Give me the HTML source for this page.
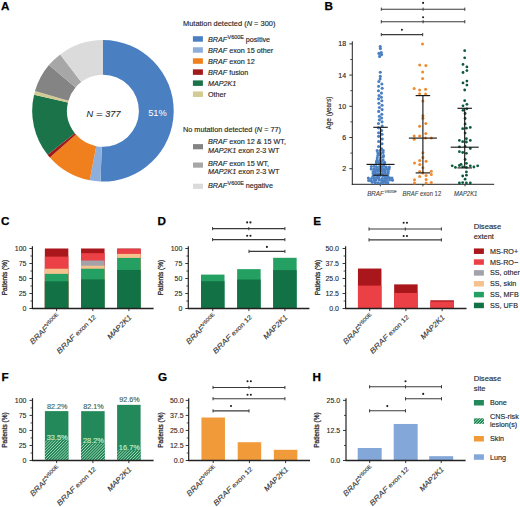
<!DOCTYPE html>
<html><head><meta charset="utf-8"><style>
html,body{margin:0;padding:0;background:#fff;}
svg{display:block;font-family:"Liberation Sans", sans-serif;}
</style></head><body>
<svg width="520" height="507" viewBox="0 0 520 507">
<rect width="520" height="507" fill="#fff"/>
<text x="1" y="10.1" font-size="11.7" font-weight="bold" fill="#000" stroke="#000" stroke-width="0.25">A</text>
<text x="324.5" y="10.1" font-size="11.7" font-weight="bold" fill="#000" stroke="#000" stroke-width="0.25">B</text>
<text x="1" y="224.5" font-size="11.7" font-weight="bold" fill="#000" stroke="#000" stroke-width="0.25">C</text>
<text x="157.5" y="224.5" font-size="11.7" font-weight="bold" fill="#000" stroke="#000" stroke-width="0.25">D</text>
<text x="313.3" y="224.5" font-size="11.7" font-weight="bold" fill="#000" stroke="#000" stroke-width="0.25">E</text>
<text x="1.6" y="380.6" font-size="11.7" font-weight="bold" fill="#000" stroke="#000" stroke-width="0.25">F</text>
<text x="157.9" y="380.6" font-size="11.7" font-weight="bold" fill="#000" stroke="#000" stroke-width="0.25">G</text>
<text x="312.6" y="380.6" font-size="11.7" font-weight="bold" fill="#000" stroke="#000" stroke-width="0.25">H</text>
<path d="M103,40 A70.8,70.8 0 1 1 100.53,181.56 L101.74,146.78 A36.0,36.0 0 1 0 103,74.8 Z" fill="#4a7fc2"/>
<path d="M100.53,181.56 A70.8,70.8 0 0 1 89.73,180.35 L96.25,146.16 A36.0,36.0 0 0 0 101.74,146.78 Z" fill="#8eafdc"/>
<path d="M89.73,180.35 A70.8,70.8 0 0 1 49.89,157.62 L76,134.61 A36.0,36.0 0 0 0 96.25,146.16 Z" fill="#f07f1e"/>
<path d="M49.89,157.62 A70.8,70.8 0 0 1 47.59,154.87 L74.83,133.21 A36.0,36.0 0 0 0 76,134.61 Z" fill="#a2191b"/>
<path d="M47.59,154.87 A70.8,70.8 0 0 1 34.07,94.63 L67.95,102.58 A36.0,36.0 0 0 0 74.83,133.21 Z" fill="#1a7349"/>
<path d="M34.07,94.63 A70.8,70.8 0 0 1 35.01,91.05 L68.43,100.76 A36.0,36.0 0 0 0 67.95,102.58 Z" fill="#d3cb93"/>
<path d="M35.01,91.05 A70.8,70.8 0 0 1 48.92,65.1 L75.5,87.56 A36.0,36.0 0 0 0 68.43,100.76 Z" fill="#848484"/>
<path d="M48.92,65.1 A70.8,70.8 0 0 1 60.19,54.41 L81.23,82.12 A36.0,36.0 0 0 0 75.5,87.56 Z" fill="#a7a7a8"/>
<path d="M60.19,54.41 A70.8,70.8 0 0 1 103,40 L103,74.8 A36.0,36.0 0 0 0 81.23,82.12 Z" fill="#dbdbdb"/>
<text x="86.4" y="116.7" font-size="9.2" font-style="italic" fill="#262626" stroke="#262626" stroke-width="0.08">N</text>
<text x="96.1" y="116.7" font-size="9.2" fill="#262626" stroke="#262626" stroke-width="0.08" textLength="6.7" lengthAdjust="spacingAndGlyphs">=</text>
<text x="105.3" y="116.7" font-size="9.2" font-style="italic" fill="#262626" stroke="#262626" stroke-width="0.08" textLength="15.2" lengthAdjust="spacingAndGlyphs">377</text>
<text x="157.5" y="116.3" font-size="9.3" text-anchor="middle" fill="#fff">51%</text>
<text stroke-width="0.14" x="183" y="25.6" font-size="7.45" fill="#262626" stroke="#262626">Mutation detected (<tspan font-style="italic">N</tspan> = 300)</text>
<rect x="192.9" y="36.2" width="10" height="5.5" fill="#4a7fc2"/>
<text stroke-width="0.14" x="208" y="41.55" font-size="7.2" fill="#262626" stroke="#262626"><tspan font-style="italic">BRAF</tspan><tspan font-size="5.4" dy="-2.9" dx="0.4">V600E</tspan><tspan dy="2.9"> positive</tspan></text>
<rect x="192.9" y="47.25" width="10" height="5.5" fill="#8eafdc"/>
<text stroke-width="0.14" x="208" y="52.6" font-size="7.2" fill="#262626" stroke="#262626"><tspan font-style="italic">BRAF</tspan> exon 15 other</text>
<rect x="192.9" y="58.3" width="10" height="5.5" fill="#f07f1e"/>
<text stroke-width="0.14" x="208" y="63.65" font-size="7.2" fill="#262626" stroke="#262626"><tspan font-style="italic">BRAF</tspan> exon 12</text>
<rect x="192.9" y="69.35" width="10" height="5.5" fill="#a2191b"/>
<text stroke-width="0.14" x="208" y="74.7" font-size="7.2" fill="#262626" stroke="#262626"><tspan font-style="italic">BRAF</tspan> fusion</text>
<rect x="192.9" y="80.4" width="10" height="5.5" fill="#1a7349"/>
<text stroke-width="0.14" x="208" y="85.75" font-size="7.2" fill="#262626" stroke="#262626"><tspan font-style="italic">MAP2K1</tspan></text>
<rect x="192.9" y="91.45" width="10" height="5.5" fill="#d3cb93"/>
<text stroke-width="0.14" x="208" y="96.8" font-size="7.2" fill="#262626" stroke="#262626">Other</text>
<text stroke-width="0.14" x="183" y="132.3" font-size="7.3" fill="#262626" stroke="#262626">No mutation detected (<tspan font-style="italic">N</tspan> = 77)</text>
<rect x="193" y="144.1" width="10" height="5.2" fill="#848484"/>
<text stroke-width="0.14" x="208" y="144.2" font-size="7.2" fill="#262626" stroke="#262626"><tspan font-style="italic">BRAF</tspan> exon 12 &amp; 15 WT,</text>
<text stroke-width="0.14" x="208" y="153.3" font-size="7.2" fill="#262626" stroke="#262626"><tspan font-style="italic">MAP2K1</tspan> exon 2-3 WT</text>
<rect x="193" y="162.5" width="10" height="5.2" fill="#a7a7a8"/>
<text stroke-width="0.14" x="208" y="165.8" font-size="7.2" fill="#262626" stroke="#262626"><tspan font-style="italic">BRAF</tspan> exon 15 WT,</text>
<text stroke-width="0.14" x="208" y="174.3" font-size="7.2" fill="#262626" stroke="#262626"><tspan font-style="italic">MAP2K1</tspan> exon 2-3 WT</text>
<rect x="193" y="183.7" width="10" height="5.2" fill="#dbdbdb"/>
<text stroke-width="0.14" x="208" y="188.1" font-size="7.2" fill="#262626" stroke="#262626"><tspan font-style="italic">BRAF</tspan><tspan font-size="5.4" dy="-2.9" dx="0.4">V600E</tspan><tspan dy="2.9"> negative</tspan></text>
<line x1="352.3" y1="41.3" x2="352.3" y2="184.8" stroke="#222222" stroke-width="1"/>
<line x1="351.8" y1="184.3" x2="494.2" y2="184.3" stroke="#222222" stroke-width="1"/>
<line x1="349.3" y1="168.7" x2="352.3" y2="168.7" stroke="#222222" stroke-width="0.9"/>
<text stroke-width="0.14" x="346.1" y="171.2" font-size="7" text-anchor="end" fill="#262626" stroke="#262626">2</text>
<line x1="349.3" y1="137.5" x2="352.3" y2="137.5" stroke="#222222" stroke-width="0.9"/>
<text stroke-width="0.14" x="346.1" y="140" font-size="7" text-anchor="end" fill="#262626" stroke="#262626">6</text>
<line x1="349.3" y1="106.3" x2="352.3" y2="106.3" stroke="#222222" stroke-width="0.9"/>
<text stroke-width="0.14" x="346.1" y="108.8" font-size="7" text-anchor="end" fill="#262626" stroke="#262626">10</text>
<line x1="349.3" y1="75.1" x2="352.3" y2="75.1" stroke="#222222" stroke-width="0.9"/>
<text stroke-width="0.14" x="346.1" y="77.6" font-size="7" text-anchor="end" fill="#262626" stroke="#262626">14</text>
<line x1="349.3" y1="43.9" x2="352.3" y2="43.9" stroke="#222222" stroke-width="0.9"/>
<text stroke-width="0.14" x="346.1" y="46.4" font-size="7" text-anchor="end" fill="#262626" stroke="#262626">18</text>
<line x1="350.3" y1="153.1" x2="352.3" y2="153.1" stroke="#222222" stroke-width="0.8"/>
<line x1="350.3" y1="121.9" x2="352.3" y2="121.9" stroke="#222222" stroke-width="0.8"/>
<line x1="350.3" y1="90.7" x2="352.3" y2="90.7" stroke="#222222" stroke-width="0.8"/>
<line x1="350.3" y1="59.5" x2="352.3" y2="59.5" stroke="#222222" stroke-width="0.8"/>
<text stroke-width="0.14" transform="translate(330.6,113) rotate(-90)" font-size="6.5" text-anchor="middle" fill="#262626" stroke="#262626" textLength="33" lengthAdjust="spacingAndGlyphs">Age (years)</text>
<line x1="380.3" y1="184.3" x2="380.3" y2="186.3" stroke="#222222" stroke-width="0.9"/>
<line x1="422.9" y1="184.3" x2="422.9" y2="186.3" stroke="#222222" stroke-width="0.9"/>
<line x1="465" y1="184.3" x2="465" y2="186.3" stroke="#222222" stroke-width="0.9"/>
<text x="367.2" y="196.4" font-size="6.6" font-style="italic" fill="#444" stroke="#444" stroke-width="0.1" textLength="29.6" lengthAdjust="spacingAndGlyphs">BRAF<tspan font-size="4.3" dy="-3.5" dx="0.8">V600E</tspan></text>
<text x="402.6" y="196.4" font-size="6.6" fill="#444" stroke="#444" stroke-width="0.1" textLength="38.6" lengthAdjust="spacingAndGlyphs"><tspan font-style="italic">BRAF</tspan> exon 12</text>
<text x="454" y="196.4" font-size="6.6" font-style="italic" fill="#444" stroke="#444" stroke-width="0.1" textLength="23.4" lengthAdjust="spacingAndGlyphs">MAP2K1</text>
<circle cx="380.2" cy="46.6" r="1.55" fill="#4a7fc2"/>
<circle cx="380.4" cy="48.6" r="1.55" fill="#4a7fc2"/>
<circle cx="378.9" cy="53.4" r="1.55" fill="#4a7fc2"/>
<circle cx="381.6" cy="54.6" r="1.55" fill="#4a7fc2"/>
<circle cx="379.6" cy="56.4" r="1.55" fill="#4a7fc2"/>
<circle cx="381.2" cy="52.6" r="1.55" fill="#4a7fc2"/>
<circle cx="380.3" cy="72.3" r="1.55" fill="#4a7fc2"/>
<circle cx="380.3" cy="76.4" r="1.55" fill="#4a7fc2"/>
<circle cx="380.1" cy="79" r="1.55" fill="#4a7fc2"/>
<circle cx="378.85" cy="81.54" r="1.55" fill="#4a7fc2"/>
<circle cx="381.87" cy="84.04" r="1.55" fill="#4a7fc2"/>
<circle cx="378.58" cy="86.27" r="1.55" fill="#4a7fc2"/>
<circle cx="382.19" cy="88.28" r="1.55" fill="#4a7fc2"/>
<circle cx="378.49" cy="90.69" r="1.55" fill="#4a7fc2"/>
<circle cx="381.44" cy="93.11" r="1.55" fill="#4a7fc2"/>
<circle cx="379.05" cy="95.46" r="1.55" fill="#4a7fc2"/>
<circle cx="381.42" cy="97.25" r="1.55" fill="#4a7fc2"/>
<circle cx="378.59" cy="98.83" r="1.55" fill="#4a7fc2"/>
<circle cx="381.86" cy="100.68" r="1.55" fill="#4a7fc2"/>
<circle cx="378.92" cy="103.26" r="1.55" fill="#4a7fc2"/>
<circle cx="382.06" cy="105.3" r="1.55" fill="#4a7fc2"/>
<circle cx="379.4" cy="107.57" r="1.55" fill="#4a7fc2"/>
<circle cx="382.11" cy="109.62" r="1.55" fill="#4a7fc2"/>
<circle cx="378.69" cy="111.38" r="1.55" fill="#4a7fc2"/>
<circle cx="381.8" cy="114.23" r="1.55" fill="#4a7fc2"/>
<circle cx="379.36" cy="116.28" r="1.55" fill="#4a7fc2"/>
<circle cx="381.61" cy="118.02" r="1.55" fill="#4a7fc2"/>
<circle cx="379.38" cy="119.84" r="1.55" fill="#4a7fc2"/>
<circle cx="382.03" cy="121.83" r="1.55" fill="#4a7fc2"/>
<circle cx="378.49" cy="123.51" r="1.55" fill="#4a7fc2"/>
<circle cx="382.16" cy="125.94" r="1.55" fill="#4a7fc2"/>
<circle cx="378.5" cy="127.83" r="1.55" fill="#4a7fc2"/>
<circle cx="381.58" cy="130.55" r="1.55" fill="#4a7fc2"/>
<circle cx="378.59" cy="132.75" r="1.55" fill="#4a7fc2"/>
<circle cx="382.04" cy="134.2" r="1.55" fill="#4a7fc2"/>
<circle cx="378.61" cy="136.37" r="1.55" fill="#4a7fc2"/>
<circle cx="382.2" cy="138.97" r="1.55" fill="#4a7fc2"/>
<circle cx="378.61" cy="141.52" r="1.55" fill="#4a7fc2"/>
<circle cx="382.04" cy="143.81" r="1.55" fill="#4a7fc2"/>
<circle cx="378.61" cy="146.5" r="1.55" fill="#4a7fc2"/>
<circle cx="381.73" cy="148.91" r="1.55" fill="#4a7fc2"/>
<circle cx="377.17" cy="150.58" r="1.55" fill="#4a7fc2"/>
<circle cx="380.19" cy="150.6" r="1.55" fill="#4a7fc2"/>
<circle cx="383.2" cy="150.45" r="1.55" fill="#4a7fc2"/>
<circle cx="377.87" cy="152.78" r="1.55" fill="#4a7fc2"/>
<circle cx="380.46" cy="153.17" r="1.55" fill="#4a7fc2"/>
<circle cx="383.05" cy="152.45" r="1.55" fill="#4a7fc2"/>
<circle cx="377.83" cy="155.42" r="1.55" fill="#4a7fc2"/>
<circle cx="380.2" cy="154.79" r="1.55" fill="#4a7fc2"/>
<circle cx="383.49" cy="155.54" r="1.55" fill="#4a7fc2"/>
<circle cx="377.26" cy="157.85" r="1.55" fill="#4a7fc2"/>
<circle cx="380.71" cy="157.5" r="1.55" fill="#4a7fc2"/>
<circle cx="383.24" cy="157" r="1.55" fill="#4a7fc2"/>
<circle cx="377.13" cy="160.16" r="1.55" fill="#4a7fc2"/>
<circle cx="380.19" cy="159.9" r="1.55" fill="#4a7fc2"/>
<circle cx="383.11" cy="160.02" r="1.55" fill="#4a7fc2"/>
<circle cx="376.38" cy="161.79" r="1.55" fill="#4a7fc2"/>
<circle cx="378.77" cy="162.22" r="1.55" fill="#4a7fc2"/>
<circle cx="381.42" cy="161.73" r="1.55" fill="#4a7fc2"/>
<circle cx="384.55" cy="162.35" r="1.55" fill="#4a7fc2"/>
<circle cx="376.39" cy="164.08" r="1.55" fill="#4a7fc2"/>
<circle cx="379.37" cy="164" r="1.55" fill="#4a7fc2"/>
<circle cx="381.38" cy="164.07" r="1.55" fill="#4a7fc2"/>
<circle cx="384.46" cy="163.86" r="1.55" fill="#4a7fc2"/>
<circle cx="371.34" cy="166.47" r="1.55" fill="#4a7fc2"/>
<circle cx="374.17" cy="166.23" r="1.55" fill="#4a7fc2"/>
<circle cx="376.52" cy="166.99" r="1.55" fill="#4a7fc2"/>
<circle cx="379.53" cy="166.76" r="1.55" fill="#4a7fc2"/>
<circle cx="381.81" cy="166.68" r="1.55" fill="#4a7fc2"/>
<circle cx="383.88" cy="166.14" r="1.55" fill="#4a7fc2"/>
<circle cx="386.3" cy="167.01" r="1.55" fill="#4a7fc2"/>
<circle cx="389.36" cy="167.06" r="1.55" fill="#4a7fc2"/>
<circle cx="371.22" cy="169.04" r="1.55" fill="#4a7fc2"/>
<circle cx="374.1" cy="169.13" r="1.55" fill="#4a7fc2"/>
<circle cx="376.48" cy="169.4" r="1.55" fill="#4a7fc2"/>
<circle cx="378.8" cy="168.95" r="1.55" fill="#4a7fc2"/>
<circle cx="381.85" cy="169.3" r="1.55" fill="#4a7fc2"/>
<circle cx="384.36" cy="169.1" r="1.55" fill="#4a7fc2"/>
<circle cx="386.92" cy="169.32" r="1.55" fill="#4a7fc2"/>
<circle cx="389.08" cy="169.09" r="1.55" fill="#4a7fc2"/>
<circle cx="373.22" cy="171.57" r="1.55" fill="#4a7fc2"/>
<circle cx="375.33" cy="171.49" r="1.55" fill="#4a7fc2"/>
<circle cx="378.19" cy="171.27" r="1.55" fill="#4a7fc2"/>
<circle cx="380.5" cy="171.08" r="1.55" fill="#4a7fc2"/>
<circle cx="382.97" cy="171.31" r="1.55" fill="#4a7fc2"/>
<circle cx="385.06" cy="171.34" r="1.55" fill="#4a7fc2"/>
<circle cx="388.29" cy="171.58" r="1.55" fill="#4a7fc2"/>
<circle cx="373.08" cy="173.39" r="1.55" fill="#4a7fc2"/>
<circle cx="375.59" cy="173.58" r="1.55" fill="#4a7fc2"/>
<circle cx="377.85" cy="173.84" r="1.55" fill="#4a7fc2"/>
<circle cx="380.07" cy="173.75" r="1.55" fill="#4a7fc2"/>
<circle cx="382.52" cy="173.6" r="1.55" fill="#4a7fc2"/>
<circle cx="385.38" cy="173.23" r="1.55" fill="#4a7fc2"/>
<circle cx="388.06" cy="173.5" r="1.55" fill="#4a7fc2"/>
<circle cx="372.99" cy="176.22" r="1.55" fill="#4a7fc2"/>
<circle cx="375.2" cy="175.31" r="1.55" fill="#4a7fc2"/>
<circle cx="377.74" cy="175.98" r="1.55" fill="#4a7fc2"/>
<circle cx="380.16" cy="175.47" r="1.55" fill="#4a7fc2"/>
<circle cx="383.22" cy="175.96" r="1.55" fill="#4a7fc2"/>
<circle cx="385.35" cy="176.19" r="1.55" fill="#4a7fc2"/>
<circle cx="387.76" cy="175.97" r="1.55" fill="#4a7fc2"/>
<circle cx="368.36" cy="178.03" r="1.55" fill="#4a7fc2"/>
<circle cx="371.47" cy="178.51" r="1.55" fill="#4a7fc2"/>
<circle cx="374.15" cy="177.98" r="1.55" fill="#4a7fc2"/>
<circle cx="376.53" cy="177.92" r="1.55" fill="#4a7fc2"/>
<circle cx="378.8" cy="178.1" r="1.55" fill="#4a7fc2"/>
<circle cx="381.98" cy="178.45" r="1.55" fill="#4a7fc2"/>
<circle cx="384.5" cy="178.55" r="1.55" fill="#4a7fc2"/>
<circle cx="386.78" cy="177.77" r="1.55" fill="#4a7fc2"/>
<circle cx="389.54" cy="177.88" r="1.55" fill="#4a7fc2"/>
<circle cx="391.97" cy="178.01" r="1.55" fill="#4a7fc2"/>
<circle cx="368.7" cy="180.39" r="1.55" fill="#4a7fc2"/>
<circle cx="371.07" cy="180.74" r="1.55" fill="#4a7fc2"/>
<circle cx="374.23" cy="180.35" r="1.55" fill="#4a7fc2"/>
<circle cx="376.13" cy="179.93" r="1.55" fill="#4a7fc2"/>
<circle cx="379.39" cy="179.94" r="1.55" fill="#4a7fc2"/>
<circle cx="381.88" cy="180.47" r="1.55" fill="#4a7fc2"/>
<circle cx="384.18" cy="180.69" r="1.55" fill="#4a7fc2"/>
<circle cx="386.57" cy="180.04" r="1.55" fill="#4a7fc2"/>
<circle cx="389.54" cy="179.92" r="1.55" fill="#4a7fc2"/>
<circle cx="392.46" cy="180.14" r="1.55" fill="#4a7fc2"/>
<circle cx="372.31" cy="182.25" r="1.55" fill="#4a7fc2"/>
<circle cx="375.3" cy="182.65" r="1.55" fill="#4a7fc2"/>
<circle cx="377.9" cy="182.86" r="1.55" fill="#4a7fc2"/>
<circle cx="380.65" cy="183.16" r="1.55" fill="#4a7fc2"/>
<circle cx="383.15" cy="182.4" r="1.55" fill="#4a7fc2"/>
<circle cx="385.58" cy="182.38" r="1.55" fill="#4a7fc2"/>
<circle cx="387.81" cy="182.67" r="1.55" fill="#4a7fc2"/>
<circle cx="422.5" cy="43.9" r="1.5" fill="#ef8a2e"/>
<circle cx="419.7" cy="64.9" r="1.5" fill="#ef8a2e"/>
<circle cx="425.9" cy="65.4" r="1.5" fill="#ef8a2e"/>
<circle cx="422.6" cy="72" r="1.5" fill="#ef8a2e"/>
<circle cx="422.6" cy="78.4" r="1.5" fill="#ef8a2e"/>
<circle cx="414.2" cy="88.6" r="1.5" fill="#ef8a2e"/>
<circle cx="419.6" cy="89.9" r="1.5" fill="#ef8a2e"/>
<circle cx="425.6" cy="89.3" r="1.5" fill="#ef8a2e"/>
<circle cx="419.6" cy="93.7" r="1.5" fill="#ef8a2e"/>
<circle cx="425.6" cy="93.9" r="1.5" fill="#ef8a2e"/>
<circle cx="422.9" cy="101" r="1.5" fill="#ef8a2e"/>
<circle cx="422.9" cy="115.7" r="1.5" fill="#ef8a2e"/>
<circle cx="422.9" cy="118.2" r="1.5" fill="#ef8a2e"/>
<circle cx="419.6" cy="126.2" r="1.5" fill="#ef8a2e"/>
<circle cx="425.8" cy="123.5" r="1.5" fill="#ef8a2e"/>
<circle cx="425.8" cy="133.4" r="1.5" fill="#ef8a2e"/>
<circle cx="414.2" cy="135.9" r="1.5" fill="#ef8a2e"/>
<circle cx="419.6" cy="135.9" r="1.5" fill="#ef8a2e"/>
<circle cx="414.2" cy="139.2" r="1.5" fill="#ef8a2e"/>
<circle cx="425.6" cy="138.1" r="1.5" fill="#ef8a2e"/>
<circle cx="431.3" cy="138.1" r="1.5" fill="#ef8a2e"/>
<circle cx="422.9" cy="152.7" r="1.5" fill="#ef8a2e"/>
<circle cx="422.9" cy="157.4" r="1.5" fill="#ef8a2e"/>
<circle cx="419.7" cy="160.6" r="1.5" fill="#ef8a2e"/>
<circle cx="426.1" cy="161.3" r="1.5" fill="#ef8a2e"/>
<circle cx="414.5" cy="162.9" r="1.5" fill="#ef8a2e"/>
<circle cx="419.7" cy="164.5" r="1.5" fill="#ef8a2e"/>
<circle cx="422.9" cy="167.7" r="1.5" fill="#ef8a2e"/>
<circle cx="431.3" cy="171.3" r="1.5" fill="#ef8a2e"/>
<circle cx="431.3" cy="174.5" r="1.5" fill="#ef8a2e"/>
<circle cx="419.7" cy="176.4" r="1.5" fill="#ef8a2e"/>
<circle cx="426.1" cy="175.6" r="1.5" fill="#ef8a2e"/>
<circle cx="426.1" cy="179.5" r="1.5" fill="#ef8a2e"/>
<circle cx="414.5" cy="179.8" r="1.5" fill="#ef8a2e"/>
<circle cx="414.5" cy="183" r="1.5" fill="#ef8a2e"/>
<circle cx="426.1" cy="183" r="1.5" fill="#ef8a2e"/>
<circle cx="431.3" cy="182.4" r="1.5" fill="#ef8a2e"/>
<circle cx="422.9" cy="172.9" r="1.5" fill="#ef8a2e"/>
<circle cx="419.7" cy="171.5" r="1.5" fill="#ef8a2e"/>
<circle cx="464.7" cy="50.7" r="1.4" fill="#0c5a3b"/>
<circle cx="464.7" cy="57.8" r="1.4" fill="#0c5a3b"/>
<circle cx="463" cy="64.4" r="1.4" fill="#0c5a3b"/>
<circle cx="466.9" cy="66.9" r="1.4" fill="#0c5a3b"/>
<circle cx="466.9" cy="70.6" r="1.4" fill="#0c5a3b"/>
<circle cx="463" cy="72.5" r="1.4" fill="#0c5a3b"/>
<circle cx="466.9" cy="81.1" r="1.4" fill="#0c5a3b"/>
<circle cx="463" cy="82.9" r="1.4" fill="#0c5a3b"/>
<circle cx="466.9" cy="85.1" r="1.4" fill="#0c5a3b"/>
<circle cx="464.7" cy="90" r="1.4" fill="#0c5a3b"/>
<circle cx="464.7" cy="100.7" r="1.4" fill="#0c5a3b"/>
<circle cx="466.9" cy="104.3" r="1.4" fill="#0c5a3b"/>
<circle cx="463" cy="105.8" r="1.4" fill="#0c5a3b"/>
<circle cx="463" cy="110.3" r="1.4" fill="#0c5a3b"/>
<circle cx="466.9" cy="108.8" r="1.4" fill="#0c5a3b"/>
<circle cx="465.1" cy="113.5" r="1.4" fill="#0c5a3b"/>
<circle cx="465.1" cy="118.5" r="1.4" fill="#0c5a3b"/>
<circle cx="465.1" cy="123.9" r="1.4" fill="#0c5a3b"/>
<circle cx="462.7" cy="128.7" r="1.4" fill="#0c5a3b"/>
<circle cx="466.4" cy="128.2" r="1.4" fill="#0c5a3b"/>
<circle cx="470.3" cy="127.4" r="1.4" fill="#0c5a3b"/>
<circle cx="465.1" cy="133.1" r="1.4" fill="#0c5a3b"/>
<circle cx="459.4" cy="140.4" r="1.4" fill="#0c5a3b"/>
<circle cx="462.7" cy="141.7" r="1.4" fill="#0c5a3b"/>
<circle cx="466.4" cy="142" r="1.4" fill="#0c5a3b"/>
<circle cx="466.4" cy="138.7" r="1.4" fill="#0c5a3b"/>
<circle cx="470.3" cy="140.4" r="1.4" fill="#0c5a3b"/>
<circle cx="459.4" cy="146.8" r="1.4" fill="#0c5a3b"/>
<circle cx="465.1" cy="146.5" r="1.4" fill="#0c5a3b"/>
<circle cx="470.3" cy="148.5" r="1.4" fill="#0c5a3b"/>
<circle cx="459.4" cy="151.7" r="1.4" fill="#0c5a3b"/>
<circle cx="462.7" cy="152.5" r="1.4" fill="#0c5a3b"/>
<circle cx="466.4" cy="153.3" r="1.4" fill="#0c5a3b"/>
<circle cx="465.1" cy="159.5" r="1.4" fill="#0c5a3b"/>
<circle cx="466.4" cy="163.3" r="1.4" fill="#0c5a3b"/>
<circle cx="461" cy="164.3" r="1.4" fill="#0c5a3b"/>
<circle cx="452.2" cy="165.8" r="1.4" fill="#0c5a3b"/>
<circle cx="455.4" cy="167.4" r="1.4" fill="#0c5a3b"/>
<circle cx="459.4" cy="165.5" r="1.4" fill="#0c5a3b"/>
<circle cx="462.7" cy="166.8" r="1.4" fill="#0c5a3b"/>
<circle cx="466.4" cy="167.4" r="1.4" fill="#0c5a3b"/>
<circle cx="470.3" cy="165.8" r="1.4" fill="#0c5a3b"/>
<circle cx="473.9" cy="167" r="1.4" fill="#0c5a3b"/>
<circle cx="477.7" cy="165.8" r="1.4" fill="#0c5a3b"/>
<circle cx="466.4" cy="171.9" r="1.4" fill="#0c5a3b"/>
<circle cx="466.4" cy="175.2" r="1.4" fill="#0c5a3b"/>
<circle cx="462.7" cy="176" r="1.4" fill="#0c5a3b"/>
<circle cx="465.1" cy="179.2" r="1.4" fill="#0c5a3b"/>
<circle cx="459.4" cy="183" r="1.4" fill="#0c5a3b"/>
<circle cx="462.7" cy="182.6" r="1.4" fill="#0c5a3b"/>
<circle cx="466.4" cy="183" r="1.4" fill="#0c5a3b"/>
<circle cx="470.3" cy="183" r="1.4" fill="#0c5a3b"/>
<line x1="380.5" y1="127.3" x2="380.5" y2="175.2" stroke="#1a1a1a" stroke-width="1.15"/>
<line x1="366.5" y1="164.4" x2="394.5" y2="164.4" stroke="#1a1a1a" stroke-width="1.15"/>
<line x1="373.25" y1="127.3" x2="387.75" y2="127.3" stroke="#1a1a1a" stroke-width="1.15"/>
<line x1="373.25" y1="175.2" x2="387.75" y2="175.2" stroke="#1a1a1a" stroke-width="1.15"/>
<line x1="422.9" y1="95.6" x2="422.9" y2="172.9" stroke="#1a1a1a" stroke-width="1.15"/>
<line x1="408.9" y1="138.1" x2="436.9" y2="138.1" stroke="#1a1a1a" stroke-width="1.15"/>
<line x1="415.65" y1="95.6" x2="430.15" y2="95.6" stroke="#1a1a1a" stroke-width="1.15"/>
<line x1="415.65" y1="172.9" x2="430.15" y2="172.9" stroke="#1a1a1a" stroke-width="1.15"/>
<line x1="464.7" y1="108.3" x2="464.7" y2="167.9" stroke="#1a1a1a" stroke-width="1.15"/>
<line x1="450.7" y1="147.2" x2="478.7" y2="147.2" stroke="#1a1a1a" stroke-width="1.15"/>
<line x1="457.45" y1="108.3" x2="471.95" y2="108.3" stroke="#1a1a1a" stroke-width="1.15"/>
<line x1="457.45" y1="167.9" x2="471.95" y2="167.9" stroke="#1a1a1a" stroke-width="1.15"/>
<line x1="381.3" y1="9.2" x2="464.8" y2="9.2" stroke="#3a3a3a" stroke-width="1.1"/>
<line x1="381.3" y1="7.6" x2="381.3" y2="10.8" stroke="#3a3a3a" stroke-width="1.0"/>
<line x1="464.8" y1="7.6" x2="464.8" y2="10.8" stroke="#3a3a3a" stroke-width="1.0"/>
<line x1="423.1" y1="7.6" x2="423.1" y2="10.8" stroke="#3a3a3a" stroke-width="1.0"/>
<circle cx="423.1" cy="2.9" r="1.05" fill="#1e1e1e"/>
<line x1="381.3" y1="21.7" x2="464.8" y2="21.7" stroke="#3a3a3a" stroke-width="1.1"/>
<line x1="381.3" y1="20.1" x2="381.3" y2="23.3" stroke="#3a3a3a" stroke-width="1.0"/>
<line x1="464.8" y1="20.1" x2="464.8" y2="23.3" stroke="#3a3a3a" stroke-width="1.0"/>
<line x1="423.1" y1="20.1" x2="423.1" y2="23.3" stroke="#3a3a3a" stroke-width="1.0"/>
<circle cx="423.1" cy="17.3" r="1.05" fill="#1e1e1e"/>
<line x1="381.3" y1="34.6" x2="422.7" y2="34.6" stroke="#3a3a3a" stroke-width="1.1"/>
<line x1="381.3" y1="33" x2="381.3" y2="36.2" stroke="#3a3a3a" stroke-width="1.0"/>
<line x1="422.7" y1="33" x2="422.7" y2="36.2" stroke="#3a3a3a" stroke-width="1.0"/>
<circle cx="401.9" cy="29.8" r="1.05" fill="#1e1e1e"/>
<rect x="44.85" y="248.5" width="23.5" height="60" fill="#a9161b"/>
<rect x="44.85" y="256.6" width="23.5" height="51.9" fill="#eb4046"/>
<rect x="44.85" y="268.72" width="23.5" height="39.78" fill="#f5c18c"/>
<rect x="44.85" y="273.88" width="23.5" height="34.62" fill="#24a062"/>
<rect x="44.85" y="281.32" width="23.5" height="27.18" fill="#137245"/>
<rect x="81.05" y="248.5" width="23.5" height="60" fill="#a9161b"/>
<rect x="81.05" y="253.12" width="23.5" height="55.38" fill="#eb4046"/>
<rect x="81.05" y="260.5" width="23.5" height="48" fill="#a2a2a8"/>
<rect x="81.05" y="265.72" width="23.5" height="42.78" fill="#f5c18c"/>
<rect x="81.05" y="268.72" width="23.5" height="39.78" fill="#24a062"/>
<rect x="81.05" y="279.4" width="23.5" height="29.1" fill="#137245"/>
<rect x="117.15" y="248.5" width="23.5" height="60" fill="#a9161b"/>
<rect x="117.15" y="249.1" width="23.5" height="59.4" fill="#eb4046"/>
<rect x="117.15" y="253.9" width="23.5" height="54.6" fill="#f5c18c"/>
<rect x="117.15" y="257.92" width="23.5" height="50.58" fill="#24a062"/>
<rect x="117.15" y="269.98" width="23.5" height="38.52" fill="#137245"/>
<line x1="32.4" y1="246.3" x2="32.4" y2="309" stroke="#222222" stroke-width="1.2"/>
<line x1="29.4" y1="308.5" x2="32.4" y2="308.5" stroke="#222222" stroke-width="0.9"/>
<text x="26.5" y="311" font-size="7" text-anchor="end" fill="#262626" stroke="#262626" stroke-width="0.1">0</text>
<line x1="29.4" y1="293.5" x2="32.4" y2="293.5" stroke="#222222" stroke-width="0.9"/>
<text x="26.5" y="296" font-size="7" text-anchor="end" fill="#262626" stroke="#262626" stroke-width="0.1">25</text>
<line x1="29.4" y1="278.5" x2="32.4" y2="278.5" stroke="#222222" stroke-width="0.9"/>
<text x="26.5" y="281" font-size="7" text-anchor="end" fill="#262626" stroke="#262626" stroke-width="0.1">50</text>
<line x1="29.4" y1="263.5" x2="32.4" y2="263.5" stroke="#222222" stroke-width="0.9"/>
<text x="26.5" y="266" font-size="7" text-anchor="end" fill="#262626" stroke="#262626" stroke-width="0.1">75</text>
<line x1="29.4" y1="248.5" x2="32.4" y2="248.5" stroke="#222222" stroke-width="0.9"/>
<text x="26.5" y="251" font-size="7" text-anchor="end" fill="#262626" stroke="#262626" stroke-width="0.1">100</text>
<line x1="30.4" y1="301" x2="32.4" y2="301" stroke="#222222" stroke-width="0.8"/>
<line x1="30.4" y1="286" x2="32.4" y2="286" stroke="#222222" stroke-width="0.8"/>
<line x1="30.4" y1="271" x2="32.4" y2="271" stroke="#222222" stroke-width="0.8"/>
<line x1="30.4" y1="256" x2="32.4" y2="256" stroke="#222222" stroke-width="0.8"/>
<line x1="31.9" y1="308.5" x2="153.6" y2="308.5" stroke="#222222" stroke-width="1.3"/>
<text transform="translate(6.9,277.5) rotate(-90)" font-size="8" stroke-width="0.3" text-anchor="middle" fill="#262626" stroke="#262626" textLength="35.5" lengthAdjust="spacingAndGlyphs">Patients (%)</text>
<line x1="56.6" y1="308.5" x2="56.6" y2="311.1" stroke="#222222" stroke-width="0.9"/>
<text transform="translate(60.8,316.8) rotate(-45)" font-size="7.6" text-anchor="end" fill="#383838" stroke="#383838" stroke-width="0.12" textLength="39.5" lengthAdjust="spacingAndGlyphs"><tspan font-style="italic">BRAF</tspan><tspan font-size="5.2" dy="-2.9" font-style="normal">V600E</tspan></text>
<line x1="92.8" y1="308.5" x2="92.8" y2="311.1" stroke="#222222" stroke-width="0.9"/>
<text transform="translate(96.3,317.5) rotate(-45)" font-size="7.6" text-anchor="end" fill="#383838" stroke="#383838" stroke-width="0.12" textLength="52.0" lengthAdjust="spacingAndGlyphs"><tspan font-style="italic">BRAF</tspan><tspan font-size="6.4"> exon 12</tspan></text>
<line x1="128.9" y1="308.5" x2="128.9" y2="311.1" stroke="#222222" stroke-width="0.9"/>
<text transform="translate(132.1,317.8) rotate(-45)" font-size="7.6" text-anchor="end" fill="#383838" stroke="#383838" stroke-width="0.12" textLength="31.0" lengthAdjust="spacingAndGlyphs"><tspan font-style="italic">MAP2K1</tspan></text>
<rect x="201" y="274.6" width="23.5" height="33.9" fill="#24a062"/>
<rect x="201" y="281.2" width="23.5" height="27.3" fill="#137245"/>
<rect x="237.15" y="269.14" width="23.5" height="39.36" fill="#24a062"/>
<rect x="237.15" y="279.52" width="23.5" height="28.98" fill="#137245"/>
<rect x="273.15" y="257.8" width="23.5" height="50.7" fill="#24a062"/>
<rect x="273.15" y="270.1" width="23.5" height="38.4" fill="#137245"/>
<line x1="188.3" y1="246.3" x2="188.3" y2="309" stroke="#222222" stroke-width="1.2"/>
<line x1="185.3" y1="308.5" x2="188.3" y2="308.5" stroke="#222222" stroke-width="0.9"/>
<text x="182.4" y="311" font-size="7" text-anchor="end" fill="#262626" stroke="#262626" stroke-width="0.1">0</text>
<line x1="185.3" y1="293.5" x2="188.3" y2="293.5" stroke="#222222" stroke-width="0.9"/>
<text x="182.4" y="296" font-size="7" text-anchor="end" fill="#262626" stroke="#262626" stroke-width="0.1">25</text>
<line x1="185.3" y1="278.5" x2="188.3" y2="278.5" stroke="#222222" stroke-width="0.9"/>
<text x="182.4" y="281" font-size="7" text-anchor="end" fill="#262626" stroke="#262626" stroke-width="0.1">50</text>
<line x1="185.3" y1="263.5" x2="188.3" y2="263.5" stroke="#222222" stroke-width="0.9"/>
<text x="182.4" y="266" font-size="7" text-anchor="end" fill="#262626" stroke="#262626" stroke-width="0.1">75</text>
<line x1="185.3" y1="248.5" x2="188.3" y2="248.5" stroke="#222222" stroke-width="0.9"/>
<text x="182.4" y="251" font-size="7" text-anchor="end" fill="#262626" stroke="#262626" stroke-width="0.1">100</text>
<line x1="186.3" y1="301" x2="188.3" y2="301" stroke="#222222" stroke-width="0.8"/>
<line x1="186.3" y1="286" x2="188.3" y2="286" stroke="#222222" stroke-width="0.8"/>
<line x1="186.3" y1="271" x2="188.3" y2="271" stroke="#222222" stroke-width="0.8"/>
<line x1="186.3" y1="256" x2="188.3" y2="256" stroke="#222222" stroke-width="0.8"/>
<line x1="187.8" y1="308.5" x2="309.4" y2="308.5" stroke="#222222" stroke-width="1.3"/>
<text transform="translate(163.1,277.5) rotate(-90)" font-size="8" stroke-width="0.3" text-anchor="middle" fill="#262626" stroke="#262626" textLength="35.5" lengthAdjust="spacingAndGlyphs">Patients (%)</text>
<line x1="212.75" y1="308.5" x2="212.75" y2="311.1" stroke="#222222" stroke-width="0.9"/>
<text transform="translate(216.95,316.8) rotate(-45)" font-size="7.6" text-anchor="end" fill="#383838" stroke="#383838" stroke-width="0.12" textLength="39.5" lengthAdjust="spacingAndGlyphs"><tspan font-style="italic">BRAF</tspan><tspan font-size="5.2" dy="-2.9" font-style="normal">V600E</tspan></text>
<line x1="248.9" y1="308.5" x2="248.9" y2="311.1" stroke="#222222" stroke-width="0.9"/>
<text transform="translate(252.4,317.5) rotate(-45)" font-size="7.6" text-anchor="end" fill="#383838" stroke="#383838" stroke-width="0.12" textLength="52.0" lengthAdjust="spacingAndGlyphs"><tspan font-style="italic">BRAF</tspan><tspan font-size="6.4"> exon 12</tspan></text>
<line x1="284.9" y1="308.5" x2="284.9" y2="311.1" stroke="#222222" stroke-width="0.9"/>
<text transform="translate(288.1,317.8) rotate(-45)" font-size="7.6" text-anchor="end" fill="#383838" stroke="#383838" stroke-width="0.12" textLength="31.0" lengthAdjust="spacingAndGlyphs"><tspan font-style="italic">MAP2K1</tspan></text>
<line x1="212.6" y1="228.6" x2="284.9" y2="228.6" stroke="#3a3a3a" stroke-width="1.1"/>
<line x1="212.6" y1="227" x2="212.6" y2="230.2" stroke="#3a3a3a" stroke-width="1.0"/>
<line x1="284.9" y1="227" x2="284.9" y2="230.2" stroke="#3a3a3a" stroke-width="1.0"/>
<line x1="248.8" y1="227" x2="248.8" y2="230.2" stroke="#3a3a3a" stroke-width="1.0"/>
<circle cx="247.15" cy="222.4" r="1.05" fill="#1e1e1e"/>
<circle cx="250.45" cy="222.4" r="1.05" fill="#1e1e1e"/>
<line x1="212.6" y1="239.6" x2="284.9" y2="239.6" stroke="#3a3a3a" stroke-width="1.1"/>
<line x1="212.6" y1="238" x2="212.6" y2="241.2" stroke="#3a3a3a" stroke-width="1.0"/>
<line x1="284.9" y1="238" x2="284.9" y2="241.2" stroke="#3a3a3a" stroke-width="1.0"/>
<circle cx="247.15" cy="235.7" r="1.05" fill="#1e1e1e"/>
<circle cx="250.45" cy="235.7" r="1.05" fill="#1e1e1e"/>
<line x1="249" y1="251.4" x2="284.9" y2="251.4" stroke="#3a3a3a" stroke-width="1.1"/>
<line x1="249" y1="249.8" x2="249" y2="253" stroke="#3a3a3a" stroke-width="1.0"/>
<line x1="284.9" y1="249.8" x2="284.9" y2="253" stroke="#3a3a3a" stroke-width="1.0"/>
<circle cx="266.9" cy="246.9" r="1.05" fill="#1e1e1e"/>
<rect x="357.95" y="268.54" width="23.5" height="39.96" fill="#a9161b"/>
<rect x="357.95" y="285.58" width="23.5" height="22.92" fill="#eb4046"/>
<rect x="394.15" y="284.38" width="23.5" height="24.12" fill="#a9161b"/>
<rect x="394.15" y="292.96" width="23.5" height="15.54" fill="#eb4046"/>
<rect x="430.4" y="300.28" width="23.5" height="8.22" fill="#a9161b"/>
<rect x="430.4" y="301.54" width="23.5" height="6.96" fill="#eb4046"/>
<line x1="345.6" y1="246.3" x2="345.6" y2="309" stroke="#222222" stroke-width="1.2"/>
<line x1="342.6" y1="308.5" x2="345.6" y2="308.5" stroke="#222222" stroke-width="0.9"/>
<text x="339" y="311" font-size="7" text-anchor="end" fill="#262626" stroke="#262626" stroke-width="0.1">0.0</text>
<line x1="342.6" y1="293.5" x2="345.6" y2="293.5" stroke="#222222" stroke-width="0.9"/>
<text x="339" y="296" font-size="7" text-anchor="end" fill="#262626" stroke="#262626" stroke-width="0.1">12.5</text>
<line x1="342.6" y1="278.5" x2="345.6" y2="278.5" stroke="#222222" stroke-width="0.9"/>
<text x="339" y="281" font-size="7" text-anchor="end" fill="#262626" stroke="#262626" stroke-width="0.1">25.0</text>
<line x1="342.6" y1="263.5" x2="345.6" y2="263.5" stroke="#222222" stroke-width="0.9"/>
<text x="339" y="266" font-size="7" text-anchor="end" fill="#262626" stroke="#262626" stroke-width="0.1">37.5</text>
<line x1="342.6" y1="248.5" x2="345.6" y2="248.5" stroke="#222222" stroke-width="0.9"/>
<text x="339" y="251" font-size="7" text-anchor="end" fill="#262626" stroke="#262626" stroke-width="0.1">50.0</text>
<line x1="343.6" y1="301" x2="345.6" y2="301" stroke="#222222" stroke-width="0.8"/>
<line x1="343.6" y1="286" x2="345.6" y2="286" stroke="#222222" stroke-width="0.8"/>
<line x1="343.6" y1="271" x2="345.6" y2="271" stroke="#222222" stroke-width="0.8"/>
<line x1="343.6" y1="256" x2="345.6" y2="256" stroke="#222222" stroke-width="0.8"/>
<line x1="345.1" y1="308.5" x2="466.5" y2="308.5" stroke="#222222" stroke-width="1.3"/>
<text transform="translate(320.2,277.5) rotate(-90)" font-size="8" stroke-width="0.3" text-anchor="middle" fill="#262626" stroke="#262626" textLength="35.5" lengthAdjust="spacingAndGlyphs">Patients (%)</text>
<line x1="369.7" y1="308.5" x2="369.7" y2="311.1" stroke="#222222" stroke-width="0.9"/>
<text transform="translate(373.9,316.8) rotate(-45)" font-size="7.6" text-anchor="end" fill="#383838" stroke="#383838" stroke-width="0.12" textLength="39.5" lengthAdjust="spacingAndGlyphs"><tspan font-style="italic">BRAF</tspan><tspan font-size="5.2" dy="-2.9" font-style="normal">V600E</tspan></text>
<line x1="405.9" y1="308.5" x2="405.9" y2="311.1" stroke="#222222" stroke-width="0.9"/>
<text transform="translate(409.4,317.5) rotate(-45)" font-size="7.6" text-anchor="end" fill="#383838" stroke="#383838" stroke-width="0.12" textLength="52.0" lengthAdjust="spacingAndGlyphs"><tspan font-style="italic">BRAF</tspan><tspan font-size="6.4"> exon 12</tspan></text>
<line x1="442.15" y1="308.5" x2="442.15" y2="311.1" stroke="#222222" stroke-width="0.9"/>
<text transform="translate(445.35,317.8) rotate(-45)" font-size="7.6" text-anchor="end" fill="#383838" stroke="#383838" stroke-width="0.12" textLength="31.0" lengthAdjust="spacingAndGlyphs"><tspan font-style="italic">MAP2K1</tspan></text>
<line x1="369" y1="229" x2="441.4" y2="229" stroke="#3a3a3a" stroke-width="1.1"/>
<line x1="369" y1="227.4" x2="369" y2="230.6" stroke="#3a3a3a" stroke-width="1.0"/>
<line x1="441.4" y1="227.4" x2="441.4" y2="230.6" stroke="#3a3a3a" stroke-width="1.0"/>
<line x1="405.3" y1="227.4" x2="405.3" y2="230.6" stroke="#3a3a3a" stroke-width="1.0"/>
<circle cx="403.65" cy="222.7" r="1.05" fill="#1e1e1e"/>
<circle cx="406.95" cy="222.7" r="1.05" fill="#1e1e1e"/>
<line x1="369" y1="239.9" x2="441.4" y2="239.9" stroke="#3a3a3a" stroke-width="1.1"/>
<line x1="369" y1="238.3" x2="369" y2="241.5" stroke="#3a3a3a" stroke-width="1.0"/>
<line x1="441.4" y1="238.3" x2="441.4" y2="241.5" stroke="#3a3a3a" stroke-width="1.0"/>
<circle cx="403.65" cy="236" r="1.05" fill="#1e1e1e"/>
<circle cx="406.95" cy="236" r="1.05" fill="#1e1e1e"/>
<text stroke-width="0.14" x="473.7" y="229.1" font-size="7.6" fill="#262626" stroke="#262626">Disease</text>
<text stroke-width="0.14" x="473.7" y="238.7" font-size="7.4" fill="#262626" stroke="#262626">extent</text>
<rect x="473.9" y="248.45" width="10" height="5.5" fill="#a9161b"/>
<text stroke-width="0.14" x="490" y="253.7" font-size="7.2" fill="#262626" stroke="#262626">MS-RO+</text>
<rect x="473.9" y="259.3" width="10" height="5.5" fill="#eb4046"/>
<text stroke-width="0.14" x="490" y="264.55" font-size="7.2" fill="#262626" stroke="#262626">MS-RO−</text>
<rect x="473.9" y="270.15" width="10" height="5.5" fill="#a2a2a8"/>
<text stroke-width="0.14" x="490" y="275.4" font-size="7.2" fill="#262626" stroke="#262626">SS, other</text>
<rect x="473.9" y="281" width="10" height="5.5" fill="#f5c18c"/>
<text stroke-width="0.14" x="490" y="286.25" font-size="7.2" fill="#262626" stroke="#262626">SS, skin</text>
<rect x="473.9" y="291.85" width="10" height="5.5" fill="#24a062"/>
<text stroke-width="0.14" x="490" y="297.1" font-size="7.2" fill="#262626" stroke="#262626">SS, MFB</text>
<rect x="473.9" y="302.7" width="10" height="5.5" fill="#137245"/>
<text stroke-width="0.14" x="490" y="307.95" font-size="7.2" fill="#262626" stroke="#262626">SS, UFB</text>
<defs><pattern id="hatch" patternUnits="userSpaceOnUse" width="2.05" height="2.05" patternTransform="rotate(45)"><rect width="2.05" height="2.05" fill="#1d7a4e"/><rect x="0" y="0" width="0.75" height="2.05" fill="#9fe2bd"/></pattern></defs>
<rect x="44.9" y="411.1" width="23.5" height="49.4" fill="#23895a"/>
<rect x="44.9" y="440.37" width="23.5" height="20.13" fill="url(#hatch)"/>
<text stroke-width="0.14" x="57.15" y="408.6" font-size="7.2" text-anchor="middle" fill="#3a6458" stroke="#3a6458">82.2%</text>
<text stroke-width="0.14" x="57.15" y="439.57" font-size="7.4" text-anchor="middle" fill="#c4f2d8" stroke="#c4f2d8">33.5%</text>
<rect x="81.15" y="411.16" width="23.5" height="49.34" fill="#23895a"/>
<rect x="81.15" y="443.55" width="23.5" height="16.95" fill="url(#hatch)"/>
<text stroke-width="0.14" x="93.4" y="408.66" font-size="7.2" text-anchor="middle" fill="#3a6458" stroke="#3a6458">82.1%</text>
<text stroke-width="0.14" x="93.4" y="442.75" font-size="7.4" text-anchor="middle" fill="#c4f2d8" stroke="#c4f2d8">28.2%</text>
<rect x="117.1" y="404.85" width="23.5" height="55.65" fill="#23895a"/>
<rect x="117.1" y="450.46" width="23.5" height="10.04" fill="url(#hatch)"/>
<text stroke-width="0.14" x="129.35" y="402.35" font-size="7.2" text-anchor="middle" fill="#3a6458" stroke="#3a6458">92.6%</text>
<text stroke-width="0.14" x="129.35" y="449.66" font-size="7.4" text-anchor="middle" fill="#c4f2d8" stroke="#c4f2d8">16.7%</text>
<line x1="32.5" y1="398.2" x2="32.5" y2="461" stroke="#222222" stroke-width="1.2"/>
<line x1="29.5" y1="460.5" x2="32.5" y2="460.5" stroke="#222222" stroke-width="0.9"/>
<text x="26.5" y="463" font-size="7" text-anchor="end" fill="#262626" stroke="#262626" stroke-width="0.1">0</text>
<line x1="29.5" y1="445.48" x2="32.5" y2="445.48" stroke="#222222" stroke-width="0.9"/>
<text x="26.5" y="447.98" font-size="7" text-anchor="end" fill="#262626" stroke="#262626" stroke-width="0.1">25</text>
<line x1="29.5" y1="430.45" x2="32.5" y2="430.45" stroke="#222222" stroke-width="0.9"/>
<text x="26.5" y="432.95" font-size="7" text-anchor="end" fill="#262626" stroke="#262626" stroke-width="0.1">50</text>
<line x1="29.5" y1="415.42" x2="32.5" y2="415.42" stroke="#222222" stroke-width="0.9"/>
<text x="26.5" y="417.92" font-size="7" text-anchor="end" fill="#262626" stroke="#262626" stroke-width="0.1">75</text>
<line x1="29.5" y1="400.4" x2="32.5" y2="400.4" stroke="#222222" stroke-width="0.9"/>
<text x="26.5" y="402.9" font-size="7" text-anchor="end" fill="#262626" stroke="#262626" stroke-width="0.1">100</text>
<line x1="30.5" y1="452.99" x2="32.5" y2="452.99" stroke="#222222" stroke-width="0.8"/>
<line x1="30.5" y1="437.96" x2="32.5" y2="437.96" stroke="#222222" stroke-width="0.8"/>
<line x1="30.5" y1="422.94" x2="32.5" y2="422.94" stroke="#222222" stroke-width="0.8"/>
<line x1="30.5" y1="407.91" x2="32.5" y2="407.91" stroke="#222222" stroke-width="0.8"/>
<line x1="32" y1="460.5" x2="153.6" y2="460.5" stroke="#222222" stroke-width="1.3"/>
<text transform="translate(7,430) rotate(-90)" font-size="8" stroke-width="0.3" text-anchor="middle" fill="#262626" stroke="#262626" textLength="35.5" lengthAdjust="spacingAndGlyphs">Patients (%)</text>
<line x1="56.65" y1="460.5" x2="56.65" y2="463.1" stroke="#222222" stroke-width="0.9"/>
<text transform="translate(60.85,468.8) rotate(-45)" font-size="7.6" text-anchor="end" fill="#383838" stroke="#383838" stroke-width="0.12" textLength="39.5" lengthAdjust="spacingAndGlyphs"><tspan font-style="italic">BRAF</tspan><tspan font-size="5.2" dy="-2.9" font-style="normal">V600E</tspan></text>
<line x1="92.9" y1="460.5" x2="92.9" y2="463.1" stroke="#222222" stroke-width="0.9"/>
<text transform="translate(96.4,469.5) rotate(-45)" font-size="7.6" text-anchor="end" fill="#383838" stroke="#383838" stroke-width="0.12" textLength="52.0" lengthAdjust="spacingAndGlyphs"><tspan font-style="italic">BRAF</tspan><tspan font-size="6.4"> exon 12</tspan></text>
<line x1="128.85" y1="460.5" x2="128.85" y2="463.1" stroke="#222222" stroke-width="0.9"/>
<text transform="translate(132.05,469.8) rotate(-45)" font-size="7.6" text-anchor="end" fill="#383838" stroke="#383838" stroke-width="0.12" textLength="31.0" lengthAdjust="spacingAndGlyphs"><tspan font-style="italic">MAP2K1</tspan></text>
<rect x="201.45" y="417.53" width="23.5" height="42.97" fill="#f19a3a"/>
<rect x="237.7" y="442.23" width="23.5" height="18.27" fill="#f19a3a"/>
<rect x="273.85" y="449.8" width="23.5" height="10.7" fill="#f19a3a"/>
<line x1="188.7" y1="398.2" x2="188.7" y2="461" stroke="#222222" stroke-width="1.2"/>
<line x1="185.7" y1="460.5" x2="188.7" y2="460.5" stroke="#222222" stroke-width="0.9"/>
<text x="183.6" y="463" font-size="7" text-anchor="end" fill="#262626" stroke="#262626" stroke-width="0.1">0.0</text>
<line x1="185.7" y1="445.48" x2="188.7" y2="445.48" stroke="#222222" stroke-width="0.9"/>
<text x="183.6" y="447.98" font-size="7" text-anchor="end" fill="#262626" stroke="#262626" stroke-width="0.1">12.5</text>
<line x1="185.7" y1="430.45" x2="188.7" y2="430.45" stroke="#222222" stroke-width="0.9"/>
<text x="183.6" y="432.95" font-size="7" text-anchor="end" fill="#262626" stroke="#262626" stroke-width="0.1">25.0</text>
<line x1="185.7" y1="415.42" x2="188.7" y2="415.42" stroke="#222222" stroke-width="0.9"/>
<text x="183.6" y="417.92" font-size="7" text-anchor="end" fill="#262626" stroke="#262626" stroke-width="0.1">37.5</text>
<line x1="185.7" y1="400.4" x2="188.7" y2="400.4" stroke="#222222" stroke-width="0.9"/>
<text x="183.6" y="402.9" font-size="7" text-anchor="end" fill="#262626" stroke="#262626" stroke-width="0.1">50.0</text>
<line x1="186.7" y1="452.99" x2="188.7" y2="452.99" stroke="#222222" stroke-width="0.8"/>
<line x1="186.7" y1="437.96" x2="188.7" y2="437.96" stroke="#222222" stroke-width="0.8"/>
<line x1="186.7" y1="422.94" x2="188.7" y2="422.94" stroke="#222222" stroke-width="0.8"/>
<line x1="186.7" y1="407.91" x2="188.7" y2="407.91" stroke="#222222" stroke-width="0.8"/>
<line x1="188.2" y1="460.5" x2="310" y2="460.5" stroke="#222222" stroke-width="1.3"/>
<text transform="translate(163.1,430) rotate(-90)" font-size="8" stroke-width="0.3" text-anchor="middle" fill="#262626" stroke="#262626" textLength="35.5" lengthAdjust="spacingAndGlyphs">Patients (%)</text>
<line x1="213.2" y1="460.5" x2="213.2" y2="463.1" stroke="#222222" stroke-width="0.9"/>
<text transform="translate(217.4,468.8) rotate(-45)" font-size="7.6" text-anchor="end" fill="#383838" stroke="#383838" stroke-width="0.12" textLength="39.5" lengthAdjust="spacingAndGlyphs"><tspan font-style="italic">BRAF</tspan><tspan font-size="5.2" dy="-2.9" font-style="normal">V600E</tspan></text>
<line x1="249.45" y1="460.5" x2="249.45" y2="463.1" stroke="#222222" stroke-width="0.9"/>
<text transform="translate(252.95,469.5) rotate(-45)" font-size="7.6" text-anchor="end" fill="#383838" stroke="#383838" stroke-width="0.12" textLength="52.0" lengthAdjust="spacingAndGlyphs"><tspan font-style="italic">BRAF</tspan><tspan font-size="6.4"> exon 12</tspan></text>
<line x1="285.6" y1="460.5" x2="285.6" y2="463.1" stroke="#222222" stroke-width="0.9"/>
<text transform="translate(288.8,469.8) rotate(-45)" font-size="7.6" text-anchor="end" fill="#383838" stroke="#383838" stroke-width="0.12" textLength="31.0" lengthAdjust="spacingAndGlyphs"><tspan font-style="italic">MAP2K1</tspan></text>
<line x1="213" y1="387.5" x2="284.9" y2="387.5" stroke="#3a3a3a" stroke-width="1.1"/>
<line x1="213" y1="385.9" x2="213" y2="389.1" stroke="#3a3a3a" stroke-width="1.0"/>
<line x1="284.9" y1="385.9" x2="284.9" y2="389.1" stroke="#3a3a3a" stroke-width="1.0"/>
<line x1="249" y1="385.9" x2="249" y2="389.1" stroke="#3a3a3a" stroke-width="1.0"/>
<circle cx="247.55" cy="381.3" r="1.05" fill="#1e1e1e"/>
<circle cx="250.85" cy="381.3" r="1.05" fill="#1e1e1e"/>
<line x1="213" y1="398.7" x2="284.9" y2="398.7" stroke="#3a3a3a" stroke-width="1.1"/>
<line x1="213" y1="397.1" x2="213" y2="400.3" stroke="#3a3a3a" stroke-width="1.0"/>
<line x1="284.9" y1="397.1" x2="284.9" y2="400.3" stroke="#3a3a3a" stroke-width="1.0"/>
<circle cx="247.55" cy="394.7" r="1.05" fill="#1e1e1e"/>
<circle cx="250.85" cy="394.7" r="1.05" fill="#1e1e1e"/>
<line x1="213" y1="410.9" x2="249" y2="410.9" stroke="#3a3a3a" stroke-width="1.1"/>
<line x1="213" y1="409.3" x2="213" y2="412.5" stroke="#3a3a3a" stroke-width="1.0"/>
<line x1="249" y1="409.3" x2="249" y2="412.5" stroke="#3a3a3a" stroke-width="1.0"/>
<circle cx="231" cy="406" r="1.05" fill="#1e1e1e"/>
<rect x="357.7" y="448" width="24" height="12.5" fill="#84a7d9"/>
<rect x="393.7" y="423.96" width="24" height="36.54" fill="#84a7d9"/>
<rect x="429.2" y="456.17" width="24" height="4.33" fill="#84a7d9"/>
<line x1="346" y1="398.2" x2="346" y2="461" stroke="#222222" stroke-width="1.2"/>
<line x1="343" y1="460.5" x2="346" y2="460.5" stroke="#222222" stroke-width="0.9"/>
<text x="340.2" y="463" font-size="7" text-anchor="end" fill="#262626" stroke="#262626" stroke-width="0.1">0.0</text>
<line x1="343" y1="430.45" x2="346" y2="430.45" stroke="#222222" stroke-width="0.9"/>
<text x="340.2" y="432.95" font-size="7" text-anchor="end" fill="#262626" stroke="#262626" stroke-width="0.1">12.5</text>
<line x1="343" y1="400.4" x2="346" y2="400.4" stroke="#222222" stroke-width="0.9"/>
<text x="340.2" y="402.9" font-size="7" text-anchor="end" fill="#262626" stroke="#262626" stroke-width="0.1">25.0</text>
<line x1="344" y1="445.48" x2="346" y2="445.48" stroke="#222222" stroke-width="0.8"/>
<line x1="344" y1="415.42" x2="346" y2="415.42" stroke="#222222" stroke-width="0.8"/>
<line x1="345.5" y1="460.5" x2="465.6" y2="460.5" stroke="#222222" stroke-width="1.3"/>
<text transform="translate(318.9,430) rotate(-90)" font-size="8" stroke-width="0.3" text-anchor="middle" fill="#262626" stroke="#262626" textLength="35.5" lengthAdjust="spacingAndGlyphs">Patients (%)</text>
<line x1="369.7" y1="460.5" x2="369.7" y2="463.1" stroke="#222222" stroke-width="0.9"/>
<text transform="translate(373.9,468.8) rotate(-45)" font-size="7.6" text-anchor="end" fill="#383838" stroke="#383838" stroke-width="0.12" textLength="39.5" lengthAdjust="spacingAndGlyphs"><tspan font-style="italic">BRAF</tspan><tspan font-size="5.2" dy="-2.9" font-style="normal">V600E</tspan></text>
<line x1="405.7" y1="460.5" x2="405.7" y2="463.1" stroke="#222222" stroke-width="0.9"/>
<text transform="translate(409.2,469.5) rotate(-45)" font-size="7.6" text-anchor="end" fill="#383838" stroke="#383838" stroke-width="0.12" textLength="52.0" lengthAdjust="spacingAndGlyphs"><tspan font-style="italic">BRAF</tspan><tspan font-size="6.4"> exon 12</tspan></text>
<line x1="441.2" y1="460.5" x2="441.2" y2="463.1" stroke="#222222" stroke-width="0.9"/>
<text transform="translate(444.4,469.8) rotate(-45)" font-size="7.6" text-anchor="end" fill="#383838" stroke="#383838" stroke-width="0.12" textLength="31.0" lengthAdjust="spacingAndGlyphs"><tspan font-style="italic">MAP2K1</tspan></text>
<line x1="369.6" y1="386.8" x2="441.5" y2="386.8" stroke="#3a3a3a" stroke-width="1.1"/>
<line x1="369.6" y1="385.2" x2="369.6" y2="388.4" stroke="#3a3a3a" stroke-width="1.0"/>
<line x1="441.5" y1="385.2" x2="441.5" y2="388.4" stroke="#3a3a3a" stroke-width="1.0"/>
<line x1="405.5" y1="385.2" x2="405.5" y2="388.4" stroke="#3a3a3a" stroke-width="1.0"/>
<circle cx="405.5" cy="381.2" r="1.05" fill="#1e1e1e"/>
<line x1="405.5" y1="398.8" x2="441.5" y2="398.8" stroke="#3a3a3a" stroke-width="1.1"/>
<line x1="405.5" y1="397.2" x2="405.5" y2="400.4" stroke="#3a3a3a" stroke-width="1.0"/>
<line x1="441.5" y1="397.2" x2="441.5" y2="400.4" stroke="#3a3a3a" stroke-width="1.0"/>
<circle cx="423.2" cy="393.9" r="1.05" fill="#1e1e1e"/>
<line x1="369.6" y1="410.8" x2="405.5" y2="410.8" stroke="#3a3a3a" stroke-width="1.1"/>
<line x1="369.6" y1="409.2" x2="369.6" y2="412.4" stroke="#3a3a3a" stroke-width="1.0"/>
<line x1="405.5" y1="409.2" x2="405.5" y2="412.4" stroke="#3a3a3a" stroke-width="1.0"/>
<circle cx="387.3" cy="406.1" r="1.05" fill="#1e1e1e"/>
<text stroke-width="0.14" x="473.7" y="381.3" font-size="7.6" fill="#262626" stroke="#262626">Disease</text>
<text stroke-width="0.14" x="473.7" y="391.1" font-size="7.6" fill="#262626" stroke="#262626">site</text>
<rect x="473.9" y="400" width="10" height="5.5" fill="#23895a"/>
<text stroke-width="0.14" x="490" y="405.3" font-size="7.2" fill="#262626" stroke="#262626">Bone</text>
<rect x="473.9" y="418.3" width="10.0" height="5.5" fill="url(#hatch)"/>
<text stroke-width="0.14" x="490" y="418.5" font-size="7.2" fill="#262626" stroke="#262626">CNS-risk</text>
<text stroke-width="0.14" x="490" y="427.3" font-size="7.2" fill="#262626" stroke="#262626">lesion(s)</text>
<rect x="473.9" y="436" width="10" height="5.5" fill="#f19a3a"/>
<text stroke-width="0.14" x="490" y="441.3" font-size="7.2" fill="#262626" stroke="#262626">Skin</text>
<rect x="473.9" y="454.3" width="10" height="5.5" fill="#84a7d9"/>
<text stroke-width="0.14" x="490" y="459.6" font-size="7.2" fill="#262626" stroke="#262626">Lung</text>
</svg>
</body></html>
